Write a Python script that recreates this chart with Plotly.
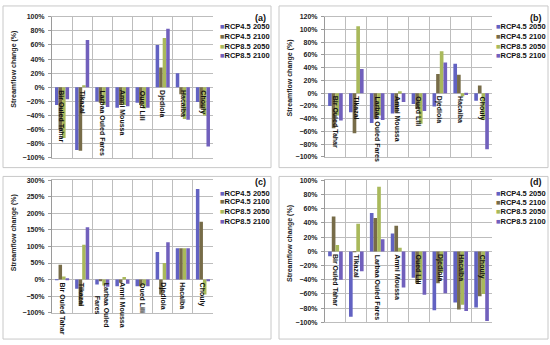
import plotly.graph_objects as go

W, H = 550, 345

series = ["RCP4.5 2050", "RCP4.5 2100", "RCP8.5 2050", "RCP8.5 2100"]
colors = ["#6262C2", "#776C48", "#A9B95B", "#7160BC"]

categories = ["Bir Ouled Tahar", "Tikazal", "Larbaa Ouled Fares", "Amni Moussa",
              "Oued Lili", "Djedioia", "Hacaiba", "Chouly"]
labels_c = ["Bir Ouled Tahar", "Tikazal", "Larbaa Ouled<br>Fares", "Amni Moussa",
            "Oued Lili", "Djedioia", "Hacaiba", "Chouly"]

# Panel (a) values (%)
a_45_2050 = [-25, -89, -20, -29, -22, 60, 20, -21]
a_45_2100 = [-60, -90, -22, -25, -25, 28, -10, -30]
a_85_2050 = [-72, 3, -25, -25, -30, 70, -45, -40]
a_85_2100 = [-17, 67, -28, -27, -29, 83, -46, -84]

# Panel (b)
b_45_2050 = [-20, -30, -47, -32, -17, -21, 46, -12]
b_45_2100 = [-55, -63, -40, -30, -25, 30, 29, 12]
b_85_2050 = [-35, 105, -35, 3, -48, 66, -5, -42]
b_85_2100 = [-43, 38, -42, -14, -28, 48, -3, -88]

# Panel (c)
c_45_2050 = [-2, -28, -15, -20, -20, 83, 95, 274]
c_45_2100 = [45, -80, -5, -10, -20, -45, 95, 175]
c_85_2050 = [9, 105, -18, 8, -18, 50, 95, -45]
c_85_2100 = [3, 158, -22, -13, -20, 113, 95, -5]

# Panel (d)
d_45_2050 = [-7, -92, 54, 25, -37, -83, -72, -79]
d_45_2100 = [49, -1, 47, 36, -45, -45, -82, -63]
d_85_2050 = [9, 39, 91, 5, -40, -30, -75, -60]
d_85_2100 = [-40, -28, 17, -51, -61, -59, -84, -98]

panels = [
    dict(tag="(a)", vals=[a_45_2050, a_45_2100, a_85_2050, a_85_2100], yr=[-100, 100], dt=20,
         px=(52, 213), py=(13, 157), labels=categories,
         leg=(218, [23, 33, 43, 53]), tagpos=(268, 14), title=(14, 67), box=(3, 2, 271, 167)),
    dict(tag="(b)", vals=[b_45_2050, b_45_2100, b_85_2050, b_85_2100], yr=[-100, 120], dt=20,
         px=(325, 492), py=(13, 156), labels=categories,
         leg=(494, [23, 33, 43, 53]), tagpos=(544, 14), title=(290, 76), box=(279, 2, 548, 167)),
    dict(tag="(c)", vals=[c_45_2050, c_45_2100, c_85_2050, c_85_2100], yr=[-100, 300], dt=50,
         px=(52, 213), py=(180, 315), labels=labels_c,
         leg=(218, [193, 202, 212, 222]), tagpos=(268, 182), title=(14, 234), box=(3, 176, 271, 342)),
    dict(tag="(d)", vals=[d_45_2050, d_45_2100, d_85_2050, d_85_2100], yr=[-100, 100], dt=20,
         px=(325, 492), py=(180, 325), labels=categories,
         leg=(494, [193, 203, 212, 222]), tagpos=(544, 182), title=(290, 245), box=(279, 176, 548, 342)),
]

FONT = "Liberation Sans, Arial, sans-serif"

fig = go.Figure()
layout = dict(width=W, height=H, margin=dict(l=0, r=0, t=0, b=0),
              paper_bgcolor="white", plot_bgcolor="white", showlegend=False,
              barmode="group", bargap=0.3, bargroupgap=0.0,
              font=dict(family=FONT, size=7, color="#222"))
annotations = []
shapes = []

for i, p in enumerate(panels):
    n = "" if i == 0 else str(i + 1)
    xa, ya = "x" + n, "y" + n
    for s, name in enumerate(series):
        fig.add_trace(go.Bar(x=categories, y=p["vals"][s], name=name,
                             marker=dict(color=colors[s], line=dict(width=0)),
                             xaxis=xa, yaxis=ya))
    x0, x1 = p["px"]
    y0, y1 = p["py"]
    layout["xaxis" + n] = dict(domain=[x0 / W, x1 / W], anchor=ya, type="category",
                               tickson="boundaries", showgrid=True, gridcolor="#BDBDBD",
                               gridwidth=1, showticklabels=False, ticks="",
                               showline=True, linecolor="#BDBDBD", mirror=True,
                               zeroline=False)
    layout["yaxis" + n] = dict(domain=[1 - y1 / H, 1 - y0 / H], anchor=xa,
                               range=p["yr"], dtick=p["dt"], tick0=0, ticksuffix="%",
                               showgrid=True, gridcolor="#BDBDBD", gridwidth=1,
                               zeroline=False, showline=True, linecolor="#9A9A9A",
                               ticks="outside", ticklen=3, tickcolor="#9A9A9A",
                               tickfont=dict(family=FONT, size=7, color="#222", weight="bold"),
                               ticklabelstandoff=2)
    # category labels at zero line
    for cat, lab in zip(categories, p["labels"]):
        annotations.append(dict(x=cat, y=0, xref=xa, yref=ya, text="<b>" + lab + "</b>",
                                textangle=90, showarrow=False, yanchor="top",
                                xanchor="center", yshift=-1,
                                font=dict(family=FONT, size=7, color="#111")))
    # y-axis title
    tx, ty = p["title"]
    annotations.append(dict(x=tx / W, y=1 - ty / H, xref="paper", yref="paper",
                            text="<b>Streamflow change (%)</b>", textangle=-90,
                            showarrow=False, xanchor="center", yanchor="middle",
                            font=dict(family=FONT, size=7, color="#222")))
    # panel tag
    gx, gy = p["tagpos"]
    annotations.append(dict(x=gx / W, y=1 - gy / H, xref="paper", yref="paper",
                            text="<b>" + p["tag"] + "</b>", showarrow=False,
                            xanchor="right", yanchor="middle",
                            font=dict(family=FONT, size=9, color="#111")))
    # custom legend
    lx, lys = p["leg"]
    for s, name in enumerate(series):
        annotations.append(dict(x=lx / W, y=1 - lys[s] / H, xref="paper", yref="paper",
                                text="<span style='color:%s'>■</span><b>%s</b>" % (colors[s], name),
                                showarrow=False, xanchor="left", yanchor="middle",
                                font=dict(family=FONT, size=7.5, color="#111")))
    bx0, by0, bx1, by1 = p["box"]
    shapes.append(dict(type="rect", xref="paper", yref="paper",
                       x0=bx0 / W, x1=bx1 / W, y0=1 - by1 / H, y1=1 - by0 / H,
                       line=dict(color="#C8C8C8", width=1)))

layout["annotations"] = annotations
layout["shapes"] = shapes
fig.update_layout(**layout)
fig.write_html("out.html", config={"displayModeBar": False},
               post_script="document.body.style.margin='0';document.body.style.overflow='hidden';")
